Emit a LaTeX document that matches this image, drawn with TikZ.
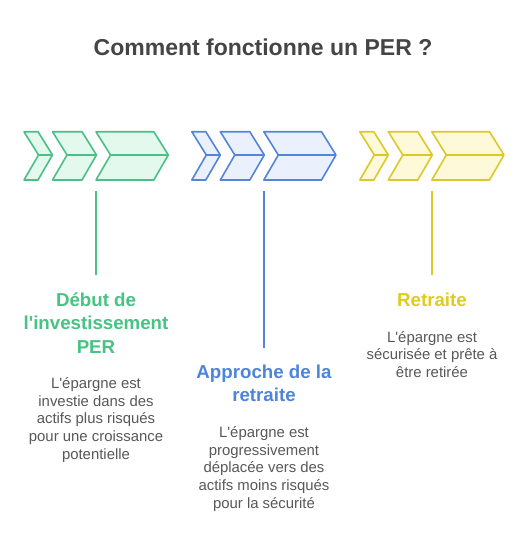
\documentclass[tikz,border=0pt]{standalone}
\usepackage{fontspec}
\setmainfont[Ligatures=TeXOff]{Liberation Sans}
\usepackage{tikz}

\definecolor{grnline}{HTML}{4CBF86}
\definecolor{grnfill}{HTML}{E3F9EE}
\definecolor{grntext}{HTML}{47C383}
\definecolor{bluline}{HTML}{5585D6}
\definecolor{blufill}{HTML}{EAF1FC}
\definecolor{blutext}{HTML}{4F84DB}
\definecolor{yelline}{HTML}{DDC82A}
\definecolor{yelfill}{HTML}{FEF9D8}
\definecolor{yeltext}{HTML}{E0CB1E}
\definecolor{bodytext}{HTML}{585858}

% one chevron: left x, tip x
\newcommand{\chev}[3]{%
    \filldraw [#3] (#1,131.7) -- (#2-14.5,131.7) -- (#2,155) -- (#2-14.5,180)
        -- (#1,180) -- (#1+14.5,155) -- cycle;
    \draw [#3] (#1+14.5,155) -- (#2,155);}

\begin{document}
\begin{tikzpicture}[x=1pt,y=-1pt,
        chevgrn/.style={draw=grnline,fill=grnfill,line width=1.6pt,line join=round},
        chevblu/.style={draw=bluline,fill=blufill,line width=1.6pt,line join=round},
        chevyel/.style={draw=yelline,fill=yelfill,line width=1.6pt,line join=round},
        stem/.style={line width=1.6pt},
        heading/.style={align=center,inner sep=0pt,
            font=\fontsize{18.7}{23.5}\selectfont\bfseries},
        body/.style={align=center,inner sep=0pt,text=bodytext,
            font=\fontsize{14.9}{17.8}\selectfont}]
    \useasboundingbox [fill=white] (0,0) rectangle (528,546);

    % Title
    \node (title) [inner sep=0pt,text=black!73,font=\fontsize{23}{26}\selectfont\bfseries]
        at (263,47) {Comment fonctionne un PER ?};

    % Chevrons
    \chev{24}{52.5}{chevgrn}
    \chev{52.5}{96.5}{chevgrn}
    \chev{96}{168.3}{chevgrn}
    \chev{191.8}{220.3}{chevblu}
    \chev{220.3}{264.3}{chevblu}
    \chev{263.8}{336}{chevblu}
    \chev{359.8}{388.3}{chevyel}
    \chev{388.3}{432.3}{chevyel}
    \chev{431.8}{504}{chevyel}

    % Stems
    \coordinate (g1) at (95.8,191);
    \coordinate (g2) at (95.8,275);
    \coordinate (b1) at (264,191);
    \coordinate (b2) at (264,348);
    \coordinate (y1) at (432,191);
    \coordinate (y2) at (432,275);
    \draw [stem,grnline] (g1) -- (g2);
    \draw [stem,bluline] (b1) -- (b2);
    \draw [stem,yelline] (y1) -- (y2);

    % Labels
    \node (gtitle) [heading,text=grntext] at (96,323)
        {Début de\\l'investissement\\PER};
    \node (gbody) [body] at (96,420)
        {L'épargne est\\investie dans des\\actifs plus risqués\\pour une croissance\\potentielle};
    \node (btitle) [heading,text=blutext] at (264,383.5)
        {Approche de la\\retraite};
    \node (bbody) [body] at (264,469)
        {L'épargne est\\progressivement\\déplacée vers des\\actifs moins risqués\\pour la sécurité};
    \node (ytitle) [heading,text=yeltext] at (432,299.5) {Retraite};
    \node (ybody) [body] at (432,354.5)
        {L'épargne est\\sécurisée et prête à\\être retirée};
\end{tikzpicture}
\end{document}
